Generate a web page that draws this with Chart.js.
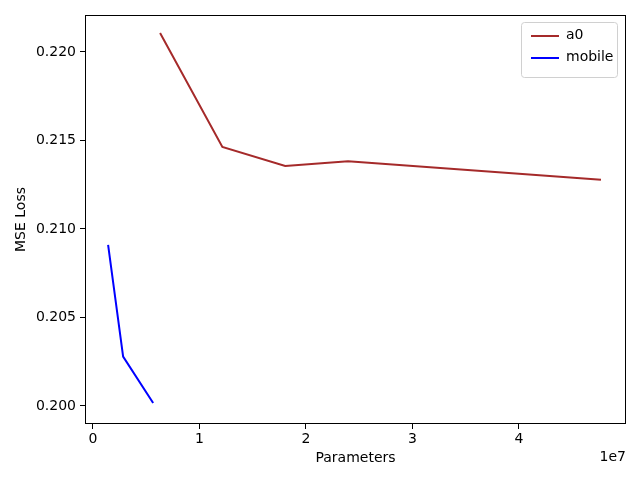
<!DOCTYPE html>
<html>
<head>
<meta charset="utf-8">
<script src="https://cdn.jsdelivr.net/npm/chart.js@4"></script>
<style>
  html, body { margin: 0; padding: 0; background: #fff; }
  #wrap { width: 640px; height: 480px; }
</style>
</head>
<body>
<div id="wrap"><canvas id="lossChart" width="640" height="480"></canvas></div>
<script>
// values
const a0Params = [6.3e6, 12.15e6, 18.05e6, 23.95e6, 47.7e6];
const a0Loss = [0.22107, 0.21463, 0.21356, 0.21382, 0.21278];
const mobileParams = [1.42e6, 2.83e6, 5.65e6];
const mobileLoss = [0.20910, 0.20279, 0.20017];
const xTicks = [0, 1e7, 2e7, 3e7, 4e7];
const yTicks = [0.200, 0.205, 0.210, 0.215, 0.220];

const FONT = 'DejaVu Sans';

function toPoints(xs, ys) {
    return xs.map((x, i) => ({ x: x, y: ys[i] }));
}

// frame round the plot area, legend box and the offset text
const framePlugin = {
    id: 'frame',
    afterDraw(chart) {
        const ctx = chart.ctx;
        const a = chart.chartArea;
        ctx.save();
        ctx.strokeStyle = '#000';
        ctx.lineWidth = 1;
        ctx.strokeRect(a.left + 0.5, a.top + 0.5, a.right - a.left - 1, a.bottom - a.top - 1);

        // legend, upper right inside the axes
        const bx = a.right - 105, by = a.top + 7, bw = 96, bh = 55;
        ctx.fillStyle = 'rgba(255,255,255,0.8)';
        ctx.strokeStyle = '#d0d0d0';
        ctx.beginPath();
        ctx.roundRect(bx + 0.5, by + 0.5, bw, bh, 3);
        ctx.fill();
        ctx.stroke();
        ctx.font = '14px ' + FONT;
        ctx.textBaseline = 'middle';
        chart.data.datasets.forEach((ds, i) => {
            const ly = by + 14 + i * 22;
            ctx.strokeStyle = ds.borderColor;
            ctx.lineWidth = 2;
            ctx.beginPath();
            ctx.moveTo(bx + 10, ly);
            ctx.lineTo(bx + 38, ly);
            ctx.stroke();
            ctx.fillStyle = '#000';
            ctx.fillText(ds.label, bx + 45, ly - 1);
        });

        // exponent text
        ctx.font = '14px ' + FONT;
        ctx.textAlign = 'right';
        ctx.fillText('1e7', a.right, 457);
        ctx.restore();
    }
};

new Chart(document.getElementById('lossChart'), {
    type: 'line',
    data: {
        datasets: [
            {
                label: 'a0',
                data: toPoints(a0Params, a0Loss),
                borderColor: '#a52a2a',
                borderWidth: 2,
                pointRadius: 0,
                fill: false
            },
            {
                label: 'mobile',
                data: toPoints(mobileParams, mobileLoss),
                borderColor: '#0000ff',
                borderWidth: 2,
                pointRadius: 0,
                fill: false
            }
        ]
    },
    options: {
        responsive: false,
        animation: false,
        layout: { padding: { top: 15, right: 14, left: 0, bottom: 0 } },
        plugins: {
            legend: { display: false },
            tooltip: { enabled: false }
        },
        scales: {
            x: {
                type: 'linear',
                min: -0.075e7,
                max: 5.005e7,
                afterBuildTicks: s => { s.ticks = xTicks.map(v => ({ value: v })); },
                afterFit: s => { s.height = 56; },
                grid: { drawOnChartArea: false, drawTicks: true, tickLength: 5, color: '#000' },
                border: { display: false },
                ticks: {
                    color: '#000',
                    padding: 2,
                    maxRotation: 0,
                    font: { family: FONT, size: 14 },
                    callback: v => String(v / 1e7)
                },
                title: {
                    display: true,
                    text: 'Parameters',
                    color: '#000',
                    font: { family: FONT, size: 14 },
                    padding: { top: 2, bottom: 13 }
                }
            },
            y: {
                type: 'linear',
                min: 0.19898,
                max: 0.22209,
                afterBuildTicks: s => { s.ticks = yTicks.map(v => ({ value: v })); },
                afterFit: s => { s.width = 85; },
                grid: { drawOnChartArea: false, drawTicks: true, tickLength: 5, color: '#000' },
                border: { display: false },
                ticks: {
                    color: '#000',
                    padding: 4,
                    font: { family: FONT, size: 14 },
                    callback: v => v.toFixed(3)
                },
                title: {
                    display: true,
                    text: 'MSE Loss',
                    color: '#000',
                    font: { family: FONT, size: 14 },
                    padding: { top: 13, bottom: 4 }
                }
            }
        }
    },
    plugins: [framePlugin]
});
</script>
</body>
</html>
